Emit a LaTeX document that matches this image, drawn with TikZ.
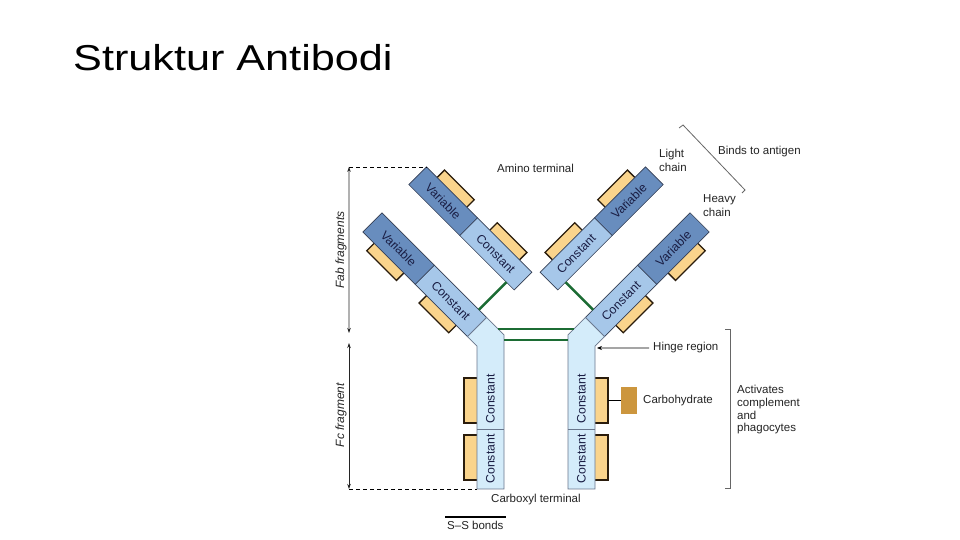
\documentclass[tikz,border=0pt]{standalone}
\usepackage{graphicx}
\usepackage{fontspec}
\setmainfont{Liberation Sans}
\usetikzlibrary{arrows.meta, calc}

\definecolor{varblue}{RGB}{104,141,190}
\definecolor{conblue}{RGB}{166,199,233}
\definecolor{hingeblue}{RGB}{212,236,250}
\definecolor{edgeblue}{RGB}{52,62,84}
\definecolor{fcedge}{RGB}{105,118,140}
\definecolor{tabfill}{RGB}{250,212,140}
\definecolor{tabline}{RGB}{42,28,12}
\definecolor{carbo}{RGB}{204,150,62}
\definecolor{ssgreen}{RGB}{28,108,52}
\definecolor{labgrey}{RGB}{36,36,36}
\definecolor{domtext}{RGB}{26,30,68}

\tikzset{
  domainbox/.style={draw=edgeblue, line width=0.6pt},
  fcline/.style={draw=fcedge, line width=0.6pt},
  tabedge/.style={draw=tabline, line width=1.3pt},
  fctab/.style={draw=tabline, line width=2pt},
  ssbond/.style={draw=ssgreen, line width=2.4pt},
  lbl/.style={font=\fontsize{11.5}{14}\selectfont, text=labgrey, inner sep=0pt, align=left},
  dlbl/.style={font=\fontsize{12.3}{14}\selectfont, text=domtext, inner sep=0pt},
  dimarrow/.style={{Stealth[length=5pt,width=3.5pt]}-{Stealth[length=5pt,width=3.5pt]}, line width=0.7pt, labgrey},
  bracket/.style={draw=gray!80!black, line width=0.8pt}
}

% yellow tab beside a domain: centre along arm, inner edge, outer edge
\newcommand{\tabbox}[3]{%
  \fill[tabfill] (#1-21,#2) rectangle (#1+21,#3);
  \draw[tabedge] (#1-21,#2) -- (#1-21,#3) -- (#1+21,#3) -- (#1+21,#2);}

\begin{document}
\begin{tikzpicture}[x=1pt, y=1pt]
\useasboundingbox (0,0) rectangle (960,540);
\fill[white] (0,0) rectangle (960,540);

\node[anchor=base west, inner sep=0pt, font=\fontsize{36}{40}\selectfont] (title) at (73,469)
  {\scalebox{1.2}[1]{Struktur Antibodi}};

\foreach \s/\bx/\rot/\ys/\ang/\ox/\ix/\tx in
  {L/490.5/135/1/-45/477/504/464, R/581.5/45/-1/45/595/568/608} {
  % Fc tabs
  \fill[tabfill] (\ox,117) rectangle (\tx,162);
  \draw[fctab] (\ox,162) -- (\tx,162) -- (\tx,117) -- (\ox,117);
  \fill[tabfill] (\ox,60) rectangle (\tx,105);
  \draw[fctab] (\ox,105) -- (\tx,105) -- (\tx,60) -- (\ox,60);
  \coordinate (\s-tab) at (\tx,139.5);

  % one arm of the Y
  \begin{scope}[shift={(\bx,199.5)}, rotate=\rot, yscale=\ys]
    \tabbox{56}{13.5}{24}
    \tabbox{130}{13.5}{24}
    \tabbox{57.5}{-77.5}{-88}
    \tabbox{132}{-77.5}{-88}
    \draw[domainbox, fill=conblue] (19,-13.5) rectangle (93,13.5);
    \draw[domainbox, fill=varblue] (93,-13.5) rectangle (167,13.5);
    \draw[domainbox, fill=conblue] (19,-77.5) rectangle (96,-52.5);
    \draw[domainbox, fill=varblue] (96,-77.5) rectangle (168,-52.5);
    \node[dlbl, rotate=\ang] (\s-hc) at (56,0) {Constant};
    \node[dlbl, rotate=\ang] (\s-hv) at (130,0) {Variable};
    \node[dlbl, rotate=\ang] (\s-lc) at (57.5,-65) {Constant};
    \node[dlbl, rotate=\ang] (\s-lv) at (132,-65) {Variable};
    \coordinate (\s-out) at (5.6,13.5);
    \coordinate (\s-in) at (-5.6,-13.5);
    \coordinate (\s-hout) at (19,13.5);
    \coordinate (\s-hin) at (19,-13.5);
    \coordinate (\s-hb) at (30,-13.5);
    \coordinate (\s-lb) at (30,-52.5);
    \coordinate (\s-up) at (2.7,-13.5);
    \coordinate (\s-tip) at (168,-77.5);
  \end{scope}

  % hinge and Fc part of the heavy chain
  \draw[fcline, fill=hingeblue] (\ox,51) -- (\s-out) -- (\s-hout) -- (\s-hin)
    -- (\s-in) -- (\ix,51) -- cycle;
  \draw[fcline] (\ox,111) -- (\ix,111);
  \coordinate (\s-low) at (\ix,200);
  \coordinate (\s-col) at (\ox,51);
  \node[dlbl, rotate=90] (\s-fc1) at (\bx,141) {Constant};
  \node[dlbl, rotate=90] (\s-fc2) at (\bx,81) {Constant};
}

% S-S bonds
\draw[ssbond] (L-hb) -- (L-lb);
\draw[ssbond] (R-hb) -- (R-lb);
\draw[ssbond] (L-up) -- (R-up);
\draw[ssbond] (L-low) -- (R-low);

% carbohydrate
\node[fill=carbo, minimum width=16pt, minimum height=27pt, inner sep=0pt] (carb) at (629,139.5) {};
\draw[line width=0.7pt] (R-tab) -- (carb.west);

% fragment dimensions
\path (L-tip) ++(-77.5,0) coordinate (fabtop);
\coordinate (fabbot) at (349,207);
\coordinate (fctop) at (349,197);
\coordinate (fcbot) at (349,51);
\draw[dashed, dash pattern=on 4pt off 3pt, line width=0.7pt] (fabtop) -- (L-tip);
\draw[dashed, dash pattern=on 4pt off 3pt, line width=0.7pt] (fcbot) -- (L-col);
\draw[dimarrow] (fabtop) -- (fabbot);
\draw[dimarrow] (fctop) -- (fcbot);
\node[lbl, font=\fontsize{12}{14}\selectfont\itshape, rotate=90] (fab) at (341,290) {Fab fragments};
\node[lbl, font=\fontsize{12}{14}\selectfont\itshape, rotate=90] (fc) at (341,125) {Fc fragment};

% labels (multi-line ones sit on their last line)
\node[lbl, anchor=base west] (amino) at (497,367) {Amino terminal};
\node[lbl, anchor=base west] (light) at (659,368) {Light\\chain};
\node[lbl, anchor=base west] (heavy) at (703,323) {Heavy\\chain};
\node[lbl, anchor=base west] (binds) at (718,385) {Binds to antigen};
\node[lbl, anchor=base west] (hinge) at (653,189) {Hinge region};
\node[lbl, anchor=base west] (carbtxt) at (643,136) {Carbohydrate};
\node[lbl, anchor=base west, font=\fontsize{11.5}{12.8}\selectfont] (activ) at (737,108)
  {Activates\\complement\\and\\phagocytes};
\node[lbl, anchor=base west] (carboxyl) at (491,37) {Carboxyl terminal};
\node[lbl, anchor=base west] (sslbl) at (447,10) {S--S bonds};

\coordinate (hingept) at (597,192);
\draw[{Stealth[length=5pt,width=4pt]}-, line width=0.7pt] (hingept) -- ([xshift=-4pt]hinge.west);

% brackets
\draw[bracket] (679,412) -- (683,415) -- (745,350) -- (742,347);
\draw[bracket] (725,211) -- (730,211) -- (730,52) -- (725,52);

% legend
\coordinate (ssa) at (445,23);
\coordinate (ssb) at (506,23);
\draw[line width=2pt] (ssa) -- (ssb);
\end{tikzpicture}
\end{document}
